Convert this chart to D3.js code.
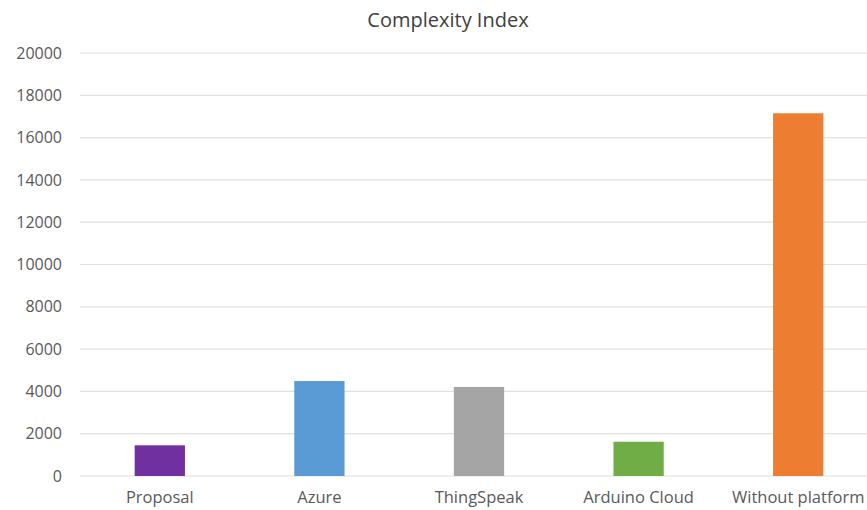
<!DOCTYPE html>
<html>
<head>
<meta charset="utf-8">
<style>
  body { margin: 0; background: #fff; }
  svg { display: block; font-family: "Open Sans", "Noto Sans", sans-serif; }
</style>
</head>
<body>
<svg width="867" height="510"></svg>
<script src="https://cdn.jsdelivr.net/npm/d3@7/dist/d3.min.js"></script>
<script>

var categories = ["Proposal", "Azure", "ThingSpeak", "Arduino Cloud", "Without platform"];
var values = [1450, 4490, 4210, 1620, 17150];
var colors = ["#7030A0", "#5B9BD5", "#A5A5A5", "#70AD47", "#ED7D31"];
var yTicks = [0, 2000, 4000, 6000, 8000, 10000, 12000, 14000, 16000, 18000, 20000];

var svg = d3.select("svg"),
    margin = {top: 53, right: -11, bottom: 34, left: 80},
    width = +svg.attr("width") - margin.left - margin.right,
    height = +svg.attr("height") - margin.top - margin.bottom,
    g = svg.append("g").attr("transform", "translate(" + margin.left + "," + margin.top + ")");

var x = d3.scaleBand()
    .domain(categories)
    .range([0, width]);

var y = d3.scaleLinear()
    .domain([0, 20000])
    .range([height, 0]);

var barW = x.bandwidth() * 0.315;

// title
svg.append("text")
    .attr("x", 448)
    .attr("y", 27)
    .attr("text-anchor", "middle")
    .attr("fill", "#404040")
    .style("font-size", "20px")
    .text("Complexity Index");

// gridlines
g.append("g")
    .selectAll("line")
    .data(yTicks)
  .enter().append("line")
    .attr("x1", 0)
    .attr("x2", width)
    .attr("y1", function(d) { return y(d); })
    .attr("y2", function(d) { return y(d); })
    .attr("stroke", "#E0E0E0")
    .attr("stroke-width", 1.2);

// y axis labels
var yAxis = g.append("g")
    .call(d3.axisLeft(y).tickValues(yTicks).tickSize(0).tickPadding(18).tickFormat(d3.format("d")));
yAxis.select(".domain").remove();
yAxis.selectAll("text")
    .attr("fill", "#595959")
    .style("font-size", "16px")
    .style("font-family", "'Open Sans', sans-serif");

// x axis labels
var xAxis = g.append("g")
    .attr("transform", "translate(0," + height + ")")
    .call(d3.axisBottom(x).tickSize(0).tickPadding(15));
xAxis.select(".domain").remove();
xAxis.selectAll("text")
    .attr("fill", "#595959")
    .style("font-size", "16.5px")
    .style("font-family", "'Open Sans', sans-serif");

// bars
g.selectAll(".bar")
    .data(values)
  .enter().append("rect")
    .attr("class", "bar")
    .attr("x", function(d, i) { return x(categories[i]) + (x.bandwidth() - barW) / 2; })
    .attr("width", barW)
    .attr("y", function(d) { return y(d); })
    .attr("height", function(d) { return height - y(d); })
    .attr("fill", function(d, i) { return colors[i]; });

</script>
</body>
</html>
